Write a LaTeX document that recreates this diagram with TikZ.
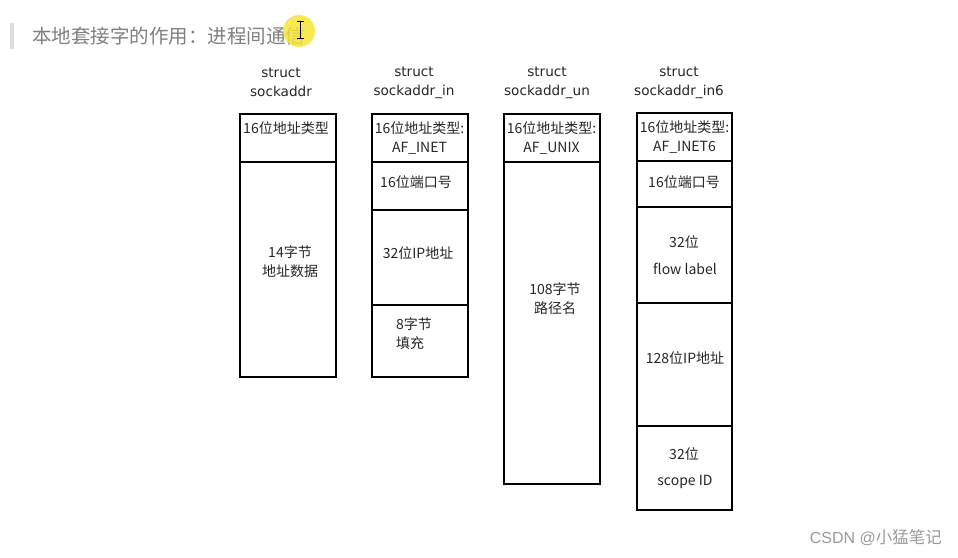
\documentclass[tikz,border=0pt]{standalone}
\usepackage{fontspec}
\setmainfont{DejaVu Sans}
\newfontfamily\cjk{Noto Sans CJK SC}
\newfontfamily\wmlatin{Liberation Sans}
\definecolor{titlegray}{HTML}{808080}
\definecolor{bargray}{HTML}{DCDCDC}
\definecolor{wmgray}{HTML}{9A9A9A}
\definecolor{hiyellow}{HTML}{F6E52E}
\begin{document}
\begin{tikzpicture}[x=1pt,y=-1pt,
  cellbox/.style={draw=black,line width=1.8pt},
  boldline/.style={draw=black,line width=2.6pt},
  lbl/.style={inner sep=0pt,font=\cjk\fontsize{14}{19}\selectfont,align=center,text=black!85},
  ttl/.style={inner sep=0pt,font=\fontsize{13.6}{19}\selectfont,align=center,text=black!85}]
\useasboundingbox (0,0) rectangle (958,557);
\fill[white] (0,0) rectangle (958,557);
% header
\fill[bargray] (10,23) rectangle (14,49);
\node[inner sep=0pt,anchor=west,font=\cjk\fontsize{19.5}{21}\selectfont,text=titlegray] (head) at (32,36) {本地套接字的作用：进程间通信};
\fill[hiyellow,opacity=0.82] (299,31) circle (16);
\draw[black,line width=1.2pt] (300.5,21.5) -- (300.5,38.5);
\draw[black,line width=1.1pt] (297,21.5) -- (304,21.5) (297,38.5) -- (304,38.5);
% titles
\node[ttl] (t1) at (281,82.5) {struct\\sockaddr};
\node[ttl] (t2) at (414,82.5) {struct\\sockaddr\_in};
\node[ttl] (t3) at (547,82.5) {struct\\sockaddr\_un};
\node[ttl] (t4) at (679,82.5) {struct\\sockaddr\_in6};
% box 1
\draw[cellbox] (240,114) rectangle (336,377);
\draw[cellbox] (240,162) -- (336,162);
\node[lbl] (b1a) at (286,128) {16位地址类型};
\node[lbl] (b1b) at (290,261.5) {14字节\\地址数据};
% box 2
\draw[cellbox] (372,114) rectangle (468,377);
\draw[cellbox] (372,162) -- (468,162);
\draw[cellbox] (372,210) -- (468,210);
\draw[cellbox] (372,305) -- (468,305);
\node[lbl] (b2a) at (419.5,138.5) {16位地址类型:\\AF\_INET};
\node[lbl] (b2b) at (416,182) {16位端口号};
\node[lbl] (b2c) at (418,253) {32位IP地址};
\node[lbl,align=left,anchor=west] (b2d) at (396,333.5) {8字节\\填充};
% box 3
\draw[cellbox] (504,114) rectangle (600,484);
\draw[cellbox] (504,162) -- (600,162);
\node[lbl] (b3a) at (551.5,138.5) {16位地址类型:\\AF\_UNIX};
\node[lbl] (b3b) at (555,298.5) {108字节\\路径名};
% box 4
\draw[cellbox] (637,113) rectangle (732,510);
\draw[cellbox] (637,161) -- (732,161);
\draw[boldline] (637,207) -- (732,207);
\draw[boldline] (637,303) -- (732,303);
\draw[boldline] (637,426) -- (732,426);
\node[lbl] (b4a) at (684.5,137.5) {16位地址类型:\\AF\_INET6};
\node[lbl] (b4b) at (684,182) {16位端口号};
\node[lbl] (b4c) at (684,242) {32位};
\node[lbl] (b4d) at (685,269) {flow label};
\node[lbl] (b4e) at (685,358) {128位IP地址};
\node[lbl] (b4f) at (684,454) {32位};
\node[lbl] (b4g) at (685,482) {scope ID};
% watermark
\node[inner sep=0pt,anchor=east,text=wmgray] (wm) at (942,538) {{\wmlatin\fontsize{16}{17}\selectfont CSDN @}{\cjk\fontsize{16.5}{17}\selectfont 小猛笔记}};
\end{tikzpicture}
\end{document}
